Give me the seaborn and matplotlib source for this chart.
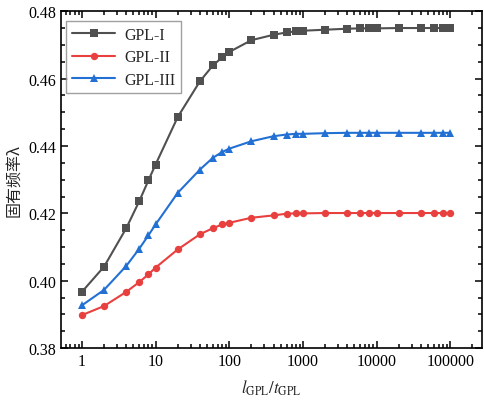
import matplotlib
matplotlib.use("Agg")
import matplotlib.pyplot as plt
import matplotlib.ticker as mticker
import seaborn as sns
import pandas as pd
import numpy as np

x_vals = [1, 2, 4, 6, 8, 10, 20, 40, 60, 80, 100, 200, 400, 600, 800, 1000,
          2000, 4000, 6000, 8000, 10000, 20000, 40000, 60000, 80000, 100000]
gpl1 = [0.3967, 0.4042, 0.4156, 0.4236, 0.4298, 0.4345, 0.4486, 0.4592, 0.4639,
        0.4663, 0.4679, 0.4714, 0.4730, 0.4737, 0.4740, 0.4742, 0.4745, 0.4748,
        0.4749, 0.4749, 0.4749, 0.4750, 0.4750, 0.4750, 0.4750, 0.4750]
gpl2 = [0.3898, 0.3925, 0.3967, 0.3996, 0.4019, 0.4039, 0.4093, 0.4138, 0.4156,
        0.4167, 0.4172, 0.4187, 0.4194, 0.4199, 0.4200, 0.4200, 0.4201, 0.4201,
        0.4201, 0.4201, 0.4201, 0.4201, 0.4201, 0.4201, 0.4201, 0.4201]
gpl3 = [0.3927, 0.3973, 0.4044, 0.4095, 0.4135, 0.4167, 0.4261, 0.4330, 0.4365,
        0.4382, 0.4392, 0.4414, 0.4429, 0.4434, 0.4436, 0.4436, 0.4438, 0.4439,
        0.4439, 0.4439, 0.4439, 0.4439, 0.4439, 0.4439, 0.4439, 0.4439]
series_names = ["GPL-I", "GPL-II", "GPL-III"]
x_ticks = [1, 10, 100, 1000, 10000, 100000]
x_tick_labels = ["1", "10", "100", "1000", "10000", "100000"]
y_ticks = [0.38, 0.40, 0.42, 0.44, 0.46, 0.48]
y_tick_labels = ["0.38", "0.40", "0.42", "0.44", "0.46", "0.48"]

df = pd.DataFrame({
    "x": x_vals * 3,
    "y": gpl1 + gpl2 + gpl3,
    "series": [series_names[0]] * len(x_vals) + [series_names[1]] * len(x_vals)
              + [series_names[2]] * len(x_vals),
})

sns.set_theme(style="ticks")
plt.rcParams["font.family"] = ["Liberation Serif", "Noto Sans CJK SC", "DejaVu Sans"]
plt.rcParams["mathtext.fontset"] = "stix"

fig = plt.figure(figsize=(4.84, 4.06), dpi=100)
ax = fig.add_axes([0.126, 0.140, 0.870, 0.830])

palette = {"GPL-I": "#505050", "GPL-II": "#e8403f", "GPL-III": "#2370d4"}
markers = {"GPL-I": "s", "GPL-II": "o", "GPL-III": "^"}
sns.lineplot(data=df, x="x", y="y", hue="series", style="series",
             palette=palette, markers=markers, dashes=False,
             markersize=5.3, markeredgewidth=0, linewidth=1.5, ax=ax)

ax.set_xscale("log")
ax.set_xlim(0.52, 2.7e5)
ax.set_ylim(0.38, 0.48)
ax.xaxis.set_major_locator(mticker.FixedLocator(x_ticks))
ax.xaxis.set_major_formatter(mticker.FixedFormatter(x_tick_labels))
ax.xaxis.set_minor_locator(mticker.LogLocator(base=10, subs=np.arange(2, 10), numticks=20))
ax.xaxis.set_minor_formatter(mticker.NullFormatter())
ax.yaxis.set_major_locator(mticker.FixedLocator(y_ticks))
ax.yaxis.set_major_formatter(mticker.FixedFormatter(y_tick_labels))
ax.yaxis.set_minor_locator(mticker.MultipleLocator(0.005))

ax.tick_params(which="both", direction="in", top=True, right=True,
               labelsize=11.5, colors="black", width=1.1)
ax.tick_params(which="major", length=5)
ax.tick_params(which="minor", length=3)
for s in ax.spines.values():
    s.set_linewidth(1.2)
    s.set_color("black")
    s.set_visible(True)

ax.set_xlabel(r"$l_{\rm GPL}/t_{\rm GPL}$", fontsize=12, labelpad=6)
ax.set_ylabel("固有频率λ", fontsize=11.5, family=["Noto Sans CJK SC", "DejaVu Sans"], labelpad=4)

leg = ax.legend(loc="upper left", bbox_to_anchor=(0.013, 0.97), borderaxespad=0,
                fontsize=11.5, frameon=True, fancybox=False,
                edgecolor="#888888", borderpad=0.35, labelspacing=0.4,
                handlelength=2.7, handletextpad=0.55)
leg.get_frame().set_linewidth(1.0)

fig.savefig("out.png", dpi=100)
